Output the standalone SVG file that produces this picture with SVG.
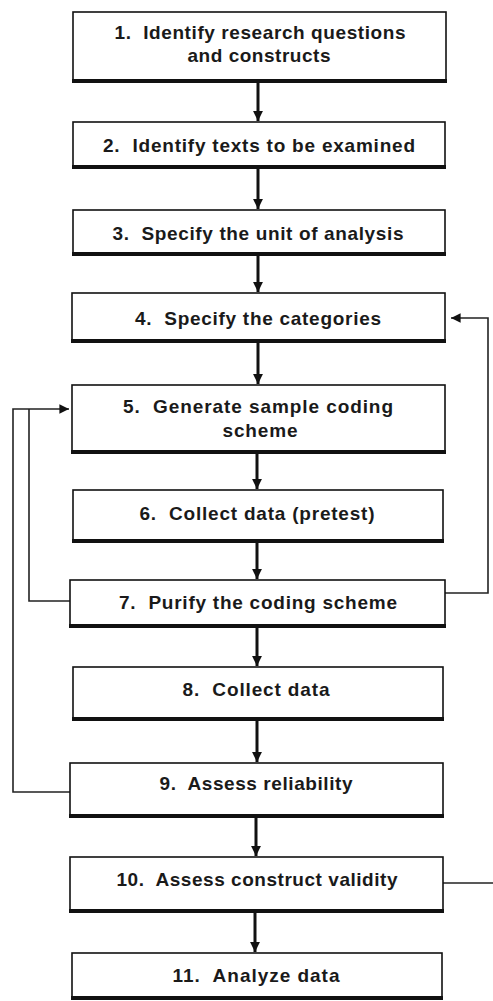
<svg xmlns="http://www.w3.org/2000/svg" width="493" height="1001" viewBox="0 0 493 1001">
<style>
.box{fill:#fff;stroke:#111;stroke-width:1.6}
.sh{stroke:#111;stroke-width:4;stroke-linecap:butt}
.t{font-family:"Liberation Sans",Arial,sans-serif;font-weight:bold;font-size:19px;fill:#1a1a1a;text-anchor:middle}
.main{stroke:#111;stroke-width:3;fill:none}
.fb{stroke:#222;stroke-width:1.6;fill:none}
</style>
<defs>
<marker id="ah" viewBox="0 0 10 10" refX="10" refY="5" markerWidth="3.3" markerHeight="3.3" orient="auto" markerUnits="strokeWidth">
<path d="M0,0 L10,5 L0,10 z" fill="#111"/>
</marker>
<marker id="ah2" viewBox="0 0 10 10" refX="10" refY="5" markerWidth="6" markerHeight="6" orient="auto" markerUnits="strokeWidth">
<path d="M0,0 L10,5 L0,10 z" fill="#111"/>
</marker>
</defs>
<rect width="493" height="1001" fill="#fff"/>
<g id="connectors">
<line class="main" x1="258" y1="83" x2="258" y2="121" marker-end="url(#ah)"/>
<line class="main" x1="258" y1="169" x2="258" y2="209" marker-end="url(#ah)"/>
<line class="main" x1="258" y1="256" x2="258" y2="292" marker-end="url(#ah)"/>
<line class="main" x1="258" y1="343" x2="258" y2="384" marker-end="url(#ah)"/>
<line class="main" x1="257" y1="454" x2="257" y2="489" marker-end="url(#ah)"/>
<line class="main" x1="257" y1="543" x2="257" y2="579" marker-end="url(#ah)"/>
<line class="main" x1="257" y1="628" x2="257" y2="666" marker-end="url(#ah)"/>
<line class="main" x1="257" y1="721" x2="257" y2="762" marker-end="url(#ah)"/>
<line class="main" x1="256" y1="818" x2="256" y2="856" marker-end="url(#ah)"/>
<line class="main" x1="255" y1="913" x2="255" y2="952" marker-end="url(#ah)"/>
<polyline class="fb" points="445,593 488,593 488,318 451,318" marker-end="url(#ah2)"/>
<polyline class="fb" points="70,601 29,601 29,409"/>
<polyline class="fb" points="70,792 13,792 13,409 69,409" marker-end="url(#ah2)"/>
<line class="fb" x1="443" y1="883" x2="493" y2="883"/>
</g>
<g id="n1"><rect class="box" x="73" y="12" width="373" height="69"/><line class="sh" x1="72" y1="81" x2="447" y2="81"/>
<text class="t" x="260" y="39" xml:space="preserve" textLength="291">1.  Identify research questions</text>
<text class="t" x="259" y="62" textLength="143">and constructs</text></g>
<g id="n2"><rect class="box" x="73" y="122" width="372" height="45"/><line class="sh" x1="72" y1="167" x2="446" y2="167"/>
<text class="t" x="259" y="152" xml:space="preserve" textLength="312">2.  Identify texts to be examined</text></g>
<g id="n3"><rect class="box" x="73" y="210" width="372" height="44"/><line class="sh" x1="72" y1="254" x2="446" y2="254"/>
<text class="t" x="258" y="240" xml:space="preserve" textLength="291">3.  Specify the unit of analysis</text></g>
<g id="n4"><rect class="box" x="72" y="293" width="373" height="48"/><line class="sh" x1="71" y1="341" x2="446" y2="341"/>
<text class="t" x="258" y="325" xml:space="preserve" textLength="246">4.  Specify the categories</text></g>
<g id="n5"><rect class="box" x="72" y="385" width="373" height="67"/><line class="sh" x1="71" y1="452" x2="446" y2="452"/>
<text class="t" x="258" y="413" xml:space="preserve" textLength="270">5.  Generate sample coding</text>
<text class="t" x="260" y="437" textLength="75">scheme</text></g>
<g id="n6"><rect class="box" x="73" y="490" width="370" height="51"/><line class="sh" x1="72" y1="541" x2="444" y2="541"/>
<text class="t" x="257" y="520" xml:space="preserve" textLength="235">6.  Collect data (pretest)</text></g>
<g id="n7"><rect class="box" x="70" y="580" width="375" height="46"/><line class="sh" x1="69" y1="626" x2="446" y2="626"/>
<text class="t" x="258" y="609" xml:space="preserve" textLength="278">7.  Purify the coding scheme</text></g>
<g id="n8"><rect class="box" x="73" y="667" width="370" height="52"/><line class="sh" x1="72" y1="719" x2="444" y2="719"/>
<text class="t" x="256" y="696" xml:space="preserve" textLength="147">8.  Collect data</text></g>
<g id="n9"><rect class="box" x="70" y="763" width="373" height="53"/><line class="sh" x1="69" y1="816" x2="444" y2="816"/>
<text class="t" x="256" y="790" xml:space="preserve" textLength="193">9.  Assess reliability</text></g>
<g id="n10"><rect class="box" x="70" y="857" width="373" height="54"/><line class="sh" x1="69" y1="911" x2="444" y2="911"/>
<text class="t" x="257" y="886" xml:space="preserve" textLength="281">10.  Assess construct validity</text></g>
<g id="n11"><rect class="box" x="72" y="953" width="370" height="45"/><line class="sh" x1="71" y1="998" x2="443" y2="998"/>
<text class="t" x="256" y="982" xml:space="preserve" textLength="167">11.  Analyze data</text></g>
</svg>
